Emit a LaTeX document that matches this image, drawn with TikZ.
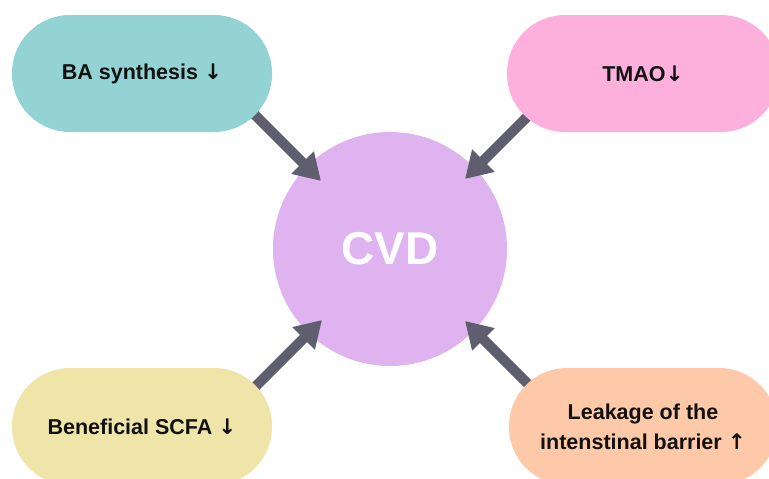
\documentclass[tikz,border=0pt]{standalone}
\usepackage{fontspec}
\setmainfont{Liberation Sans}
\newfontfamily\arrowfont{DejaVu Sans}
\usetikzlibrary{arrows.meta}
\pgfdeclarelayer{bgl}
\pgfdeclarelayer{midl}
\pgfsetlayers{bgl,midl,main}
\definecolor{tealc}{HTML}{93D3D3}
\definecolor{pinkc}{HTML}{FDB0DC}
\definecolor{yellc}{HTML}{EFE5A8}
\definecolor{peachc}{HTML}{FDC9A9}
\definecolor{circc}{HTML}{DFB3EF}
\definecolor{arrc}{HTML}{5F5E6E}
\definecolor{txtc}{HTML}{111111}
\tikzset{
  pill/.style={rectangle, rounded corners=58pt, minimum height=117pt, inner sep=0pt,
    font=\fontsize{21.5}{30}\selectfont\bfseries, text=txtc, align=center},
  arr/.style={draw=arrc, line width=10pt, -{Triangle[width=30pt,length=26pt]}, arrc}
}
\newcommand{\dnar}{{\arrowfont\bfseries ↓}}
\newcommand{\upar}{{\arrowfont\bfseries ↑}}
\begin{document}
\begin{tikzpicture}[x=1pt,y=-1pt]
\useasboundingbox (0,0) rectangle (769,479);
\clip (0,0) rectangle (769,479);
\begin{pgfonlayer}{bgl}
\fill[white] (0,0) rectangle (769,479);
\node[circle, fill=circc, minimum size=234pt, inner sep=0pt, text=white,
  font=\fontsize{46}{50}\selectfont\bfseries] (cvd) at (390,249) {CVD};
\end{pgfonlayer}
\node[pill, fill=tealc, minimum width=260pt] (ba) at (142,73.5) {BA synthesis \dnar};
\node[pill, fill=pinkc, minimum width=272pt] (tmao) at (643,73.5) {TMAO\dnar};
\node[pill, fill=yellc, minimum width=260pt] (scfa) at (142,426.5) {Beneficial SCFA \dnar};
\node[pill, fill=peachc, minimum width=268pt] (leak) at (643,426.5) {Leakage of the\\intenstinal barrier \upar};
\coordinate (t1) at (321,181);
\coordinate (t2) at (465,179);
\coordinate (t3) at (322,320);
\coordinate (t4) at (465,321);
\begin{pgfonlayer}{midl}
\draw[arr] (ba.center) ++(89,17.5) coordinate (s1) (s1) -- (t1);
\draw[arr] (tmao.center) ++(-88,15.5) coordinate (s2) (s2) -- (t2);
\draw[arr] (scfa.center) ++(90,-16.5) coordinate (s3) (s3) -- (t3);
\draw[arr] (leak.center) ++(-88,-15.5) coordinate (s4) (s4) -- (t4);
\end{pgfonlayer}
\end{tikzpicture}
\end{document}
